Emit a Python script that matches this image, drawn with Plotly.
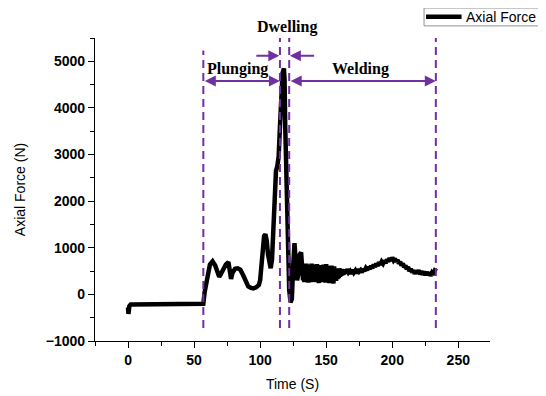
import plotly.graph_objects as go

# ---- data ----
time_start = [0, 0.3, 0.6, 1.0, 1.5, 2.0, 3, 5, 10, 20, 30, 40, 50, 56, 57]
force_start = [-280, -420, -350, -250, -220, -215, -215, -214, -212, -210, -210, -208, -206, -205, -200]

time_plunge = [58, 60, 62, 64, 66, 68, 69, 70, 72, 74,
               76, 77, 78, 79, 81, 83, 85, 87, 89, 91,
               93, 95, 97, 99, 100, 101, 102, 103, 104, 105,
               106, 107, 108, 109, 110, 111, 112, 113, 114, 115,
               116, 117, 118, 118.5, 119, 120, 121, 122, 123, 124,
               125, 126, 127, 128, 129, 130, 131, 132]
force_plunge = [50, 420, 640, 710, 620, 460, 380, 420, 560, 640,
                690, 480, 330, 460, 550, 560, 530, 420, 270, 170,
                140, 130, 150, 200, 300, 600, 1000, 1250, 1290, 1150,
                850, 620, 560, 750, 1500, 2200, 2650, 2750, 2950, 3600,
                4300, 4750, 4850, 4600, 3600, 2300, 900, 100, -170, -100,
                600, 1100, 700, 300, 450, 850, 900, 600]

time_weld1 = [132.5, 133, 133.5, 134, 134.5, 135, 135.5, 136, 136.5, 137,
              137.5, 138, 138.5, 139, 139.5, 140, 140.5, 141, 141.5, 142,
              142.5, 143, 143.5, 144, 144.5, 145, 145.5, 146, 146.5, 147,
              147.5, 148, 148.5, 149, 149.5, 150, 150.5, 151, 151.5, 152,
              152.5, 153, 153.5, 154, 154.5, 155, 155.5, 156, 156.5, 157,
              157.5, 158, 158.5, 159, 159.5, 160, 160.5, 161, 161.5, 162]
force_weld1 = [300, 640, 260, 620, 300, 660, 280, 600, 250, 640,
               310, 590, 260, 660, 290, 610, 270, 640, 320, 580,
               260, 650, 300, 620, 240, 600, 280, 630, 310, 570,
               260, 640, 290, 600, 250, 650, 300, 610, 270, 560,
               240, 590, 280, 620, 260, 570, 230, 600, 300, 560,
               290, 540, 330, 520, 350, 560, 380, 510, 400, 540]

time_weld2 = [163, 164, 165, 166, 167, 168, 169, 170, 171, 172,
              173, 174, 175, 176, 177, 178, 179, 180,
              181, 182, 183, 184, 185, 186, 187, 188, 189, 190,
              191, 192, 193, 194, 195, 196, 197, 198, 199, 200,
              201, 202, 203, 204, 205, 206, 207, 208, 209, 210,
              211, 212, 213, 214, 215, 216, 217, 218, 219, 220,
              221, 222, 223, 224, 225, 226, 227, 228, 229, 230,
              231, 232, 233]
force_weld2 = [420, 530, 450, 540, 470, 500, 440, 530, 470, 510,
               450, 540, 490, 520, 470, 550, 500, 560,
               520, 590, 540, 610, 560, 640, 590, 660, 610, 690,
               640, 700, 660, 720, 670, 750, 700, 780, 720, 790,
               730, 770, 700, 740, 660, 700, 620, 660, 580, 620,
               540, 590, 500, 550, 470, 520, 440, 510, 450, 520,
               430, 500, 420, 490, 410, 480, 420, 470, 400, 460,
               420, 500, 560]

# phase boundaries (s)
phase_bounds = [57, 115, 122, 233]
phase_labels = ["Plunging", "Dwelling", "Welding"]
series_name = "Axial Force"

x_ticks = [0, 50, 100, 150, 200, 250]
y_ticks = [-1000, 0, 1000, 2000, 3000, 4000, 5000]

time_all = time_start + time_plunge + time_weld1 + time_weld2
force_all = force_start + force_plunge + force_weld1 + force_weld2

PURPLE = "#7030A0"

fig = go.Figure()
fig.add_trace(go.Scatter(
    x=time_all, y=force_all, mode="lines", name=series_name,
    line=dict(color="black", width=4.5), showlegend=False,
))

# dashed phase lines
line_tops = [5230, 5500, 5500, 5500]
for xb, top in zip(phase_bounds, line_tops):
    fig.add_shape(type="line", xref="x", yref="y", x0=xb, x1=xb, y0=-720, y1=top,
                  line=dict(color=PURPLE, width=2, dash="8px,5px"))

# double arrows for plunging and welding
arrow_y = 4580
for a, b in [(phase_bounds[0], phase_bounds[1]), (phase_bounds[2], phase_bounds[3])]:
    fig.add_annotation(x=b, y=arrow_y, ax=a, ay=arrow_y, xref="x", yref="y",
                       axref="x", ayref="y", text="", showarrow=True,
                       arrowhead=2, startarrowhead=2, arrowside="end+start",
                       arrowsize=1.1, startarrowsize=1.1,
                       arrowwidth=2, arrowcolor=PURPLE)

# dwelling arrows pointing inward
dw_y = 5120
fig.add_annotation(x=phase_bounds[1] - 0.5, y=dw_y, ax=96, ay=dw_y, xref="x", yref="y",
                   axref="x", ayref="y", text="", showarrow=True, arrowhead=2,
                   arrowsize=1.1, arrowwidth=2, arrowcolor=PURPLE)
fig.add_annotation(x=phase_bounds[2] + 0.5, y=dw_y, ax=142, ay=dw_y, xref="x", yref="y",
                   axref="x", ayref="y", text="", showarrow=True, arrowhead=2,
                   arrowsize=1.1, arrowwidth=2, arrowcolor=PURPLE)

label_font = dict(family="Liberation Serif", size=16, color="black", weight="bold")
fig.add_annotation(x=83, y=4840, xref="x", yref="y", text=phase_labels[0],
                   showarrow=False, font=label_font, yanchor="middle")
fig.add_annotation(x=176, y=4840, xref="x", yref="y", text=phase_labels[2],
                   showarrow=False, font=label_font, yanchor="middle")
fig.add_annotation(x=120.5, y=1.036, xref="x", yref="paper", text=phase_labels[1],
                   showarrow=False, font=label_font, yanchor="middle")

# legend box drawn by hand (top-right, partly cut by the page edge)
fig.add_shape(type="rect", xref="paper", yref="paper", x0=0.833, x1=1.2, y0=1.040, y1=1.099,
              line=dict(color="#909090", width=1), fillcolor="white")
fig.add_shape(type="line", xref="paper", yref="paper", x0=0.838, x1=0.928, y0=1.070, y1=1.070,
              line=dict(color="black", width=4.5))
fig.add_annotation(x=0.935, y=1.070, xref="paper", yref="paper", text=series_name,
                   xanchor="left", yanchor="middle", showarrow=False,
                   font=dict(family="Liberation Sans", size=14, color="black"))

axis_common = dict(
    showline=True, linecolor="black", linewidth=1.2, showgrid=False, zeroline=False,
    ticks="outside", ticklen=6, tickcolor="black", tickwidth=1.2,
    tickfont=dict(family="Liberation Sans", size=14, color="black", weight="bold"),
    automargin=False,
)

fig.update_layout(
    width=538, height=388,
    margin=dict(l=87, r=56, t=30, b=55),
    plot_bgcolor="white", paper_bgcolor="white",
    showlegend=False,
    xaxis=dict(range=[-25, 274], tickvals=x_ticks,
               minor=dict(dtick=25, ticks="outside", ticklen=4, tickcolor="black"),
               title=dict(text="Time (S)", font=dict(family="Liberation Sans", size=14, color="black"),
                          standoff=12),
               **axis_common),
    yaxis=dict(range=[-1000, 5500], tickvals=y_ticks,
               minor=dict(dtick=500, ticks="outside", ticklen=4, tickcolor="black"),
               title=dict(text="Axial Force (N)", font=dict(family="Liberation Sans", size=14, color="black"),
                          standoff=16),
               **axis_common),
)

fig.write_html("out.html")
